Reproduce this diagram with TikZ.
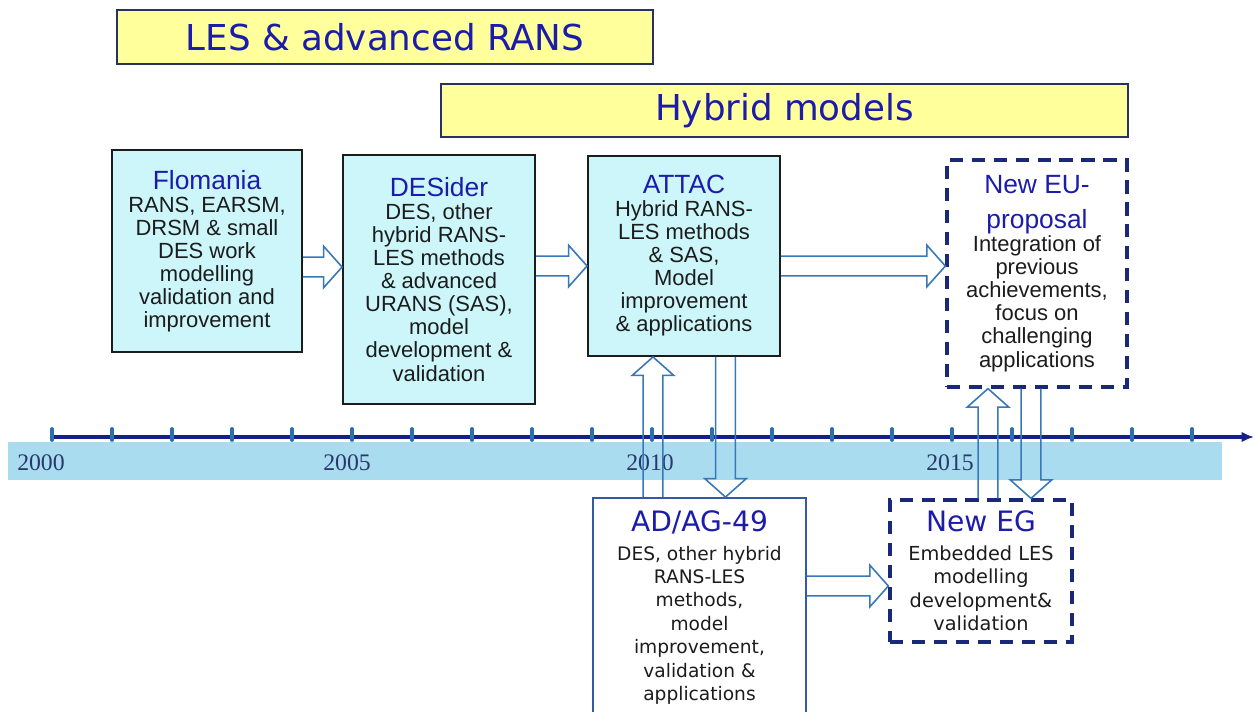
\documentclass[tikz,border=0pt]{standalone}
\usepackage{fontspec}
\setmainfont{Liberation Sans}
\newfontfamily\verdfont{DejaVu Sans}
\newfontfamily\yearfont{Liberation Serif}
\usetikzlibrary{calc,arrows.meta}
\definecolor{boxcyan}{RGB}{204,246,250}
\definecolor{bandblue}{RGB}{168,220,238}
\definecolor{axisblue}{RGB}{22,32,140}
\definecolor{tickblue}{RGB}{45,110,178}
\definecolor{titleblue}{RGB}{28,28,170}
\definecolor{bodygray}{RGB}{28,28,28}
\definecolor{arrowblue}{RGB}{55,120,185}
\definecolor{dashblue}{RGB}{25,40,120}
\definecolor{adagblue}{RGB}{50,90,165}
\definecolor{banneryellow}{RGB}{255,255,155}
\definecolor{bannerline}{RGB}{40,50,95}
\definecolor{yearblue}{RGB}{40,55,110}
\def\pxu{0.569pt}
\newcommand{\ttl}[1]{{\fontsize{15}{13}\selectfont\color{titleblue}#1}}
\newcommand{\ttlb}[1]{{\fontsize{16}{13}\selectfont\color{titleblue}#1}}

\begin{document}
\begin{tikzpicture}[x=0.02cm, y=-0.02cm,
	projbox/.style={draw=bodygray, line width=1.1pt, fill=boxcyan, align=center,
		inner sep=0pt, text=bodygray, font=\fontsize{12.5}{13.1}\selectfont},
	newbox/.style={draw=dashblue, line width=1.9pt, dash pattern=on 7.5pt off 5pt,
		fill=white, align=center, inner sep=0pt, text=bodygray},
	groupbox/.style={draw=adagblue, line width=1.1pt, fill=white, align=center,
		inner sep=0pt, text=bodygray},
	banner/.style={draw=bannerline, line width=1pt, fill=banneryellow, text=titleblue,
		inner sep=0pt, font=\verdfont\fontsize{20.3}{24}\selectfont},
	yearlabel/.style={text=yearblue, font=\yearfont\fontsize{13.5}{16}\selectfont},
	blockarrow/.style={draw=arrowblue, line width=0.9pt, line join=miter,
		to path={let \p1=(\tikztostart), \p2=(\tikztotarget),
			\n1={atan2(\y2-\y1,\x2-\x1)}, \n2={veclen(\x2-\x1,\y2-\y1)} in
			($(\p1)+(\n1+90:\shaftw)$)
			-- ($(\p1)+(\n1:\n2-\headl)+(\n1+90:\shaftw)$)
			-- ($(\p1)+(\n1:\n2-\headl)+(\n1+90:\headw)$)
			-- (\p2)
			-- ($(\p1)+(\n1:\n2-\headl)+(\n1-90:\headw)$)
			-- ($(\p1)+(\n1:\n2-\headl)+(\n1-90:\shaftw)$)
			-- ($(\p1)+(\n1-90:\shaftw)$)}}]
	\def\shaftw{5.6pt}
	\def\headw{11.8pt}
	\def\headl{10.5pt}

	\path[use as bounding box, clip] (0,0) rectangle (1255,711);

	% time line
	\fill[bandblue] (8,442) rectangle (1222,480);
	\draw[axisblue, line width=2pt, -{Latex[length=7pt,width=6pt]}] (52,437) -- (1254,437);
	\foreach \i in {0,...,19}
		\draw[tickblue, line width=2.2pt, line cap=round] (52+60*\i,429) -- (52+60*\i,440);

	\node[yearlabel] (y2000) at (41,463)  {2000};
	\node[yearlabel] (y2005) at (347,463) {2005};
	\node[yearlabel] (y2010) at (650,463) {2010};
	\node[yearlabel] (y2015) at (950,463) {2015};

	% projects
	\node[projbox, minimum width=190*\pxu, minimum height=202*\pxu] (flo) at (207,251)
		{\ttl{Flomania}\\RANS, EARSM,\\DRSM \& small\\DES work\\modelling\\validation and\\improvement};
	\node[projbox, minimum width=192*\pxu, minimum height=249*\pxu] (des) at (439,279.5)
		{\ttl{DESider}\\DES, other\\hybrid RANS-\\LES methods\\\& advanced\\URANS (SAS),\\model\\development \&\\validation};
	\node[projbox, minimum width=192*\pxu, minimum height=200*\pxu] (att) at (684,256)
		{\ttl{ATTAC}\\Hybrid RANS-\\LES methods\\\& SAS,\\Model\\improvement\\\& applications};
	\node[newbox, minimum width=180*\pxu, minimum height=227*\pxu,
		font=\fontsize{12.5}{13.1}\selectfont] (eu) at (1037,273.5)
		{\ttl{New EU-}\\[7pt]\ttl{proposal}\\Integration of\\previous\\achievements,\\focus on\\challenging\\applications};

	% groups
	\node[groupbox, minimum width=213*\pxu, minimum height=219*\pxu,
		font=\verdfont\fontsize{10.6}{13.3}\selectfont] (adag) at (699.5,607.5)
		{\ttlb{AD/AG-49}\\[3pt]DES, other hybrid\\RANS-LES\\methods,\\model\\improvement,\\validation \&\\applications};
	\node[newbox, minimum width=182*\pxu, minimum height=142*\pxu,
		font=\verdfont\fontsize{11}{13.3}\selectfont] (eg) at (981,571)
		{\ttlb{New EG}\\[3pt]Embedded LES\\modelling\\development\&\\validation};

	% links
	\draw[blockarrow] (flo.east |- 0,267) to (des.west |- 0,267);
	\draw[blockarrow] (des.east |- 0,266) to (att.west |- 0,266);
	\draw[blockarrow] (att.east |- 0,266) to (eu.west |- 0,266);
	\draw[blockarrow] (adag.east |- 0,586) to (eg.west |- 0,586);
	\draw[blockarrow] (adag.north -| 653,0) to (att.south -| 653,0);
	\draw[blockarrow] (att.south -| 725.5,0) to (adag.north -| 725.5,0);
	\draw[blockarrow] (eg.north -| 988,0) to (eu.south -| 988,0);
	\draw[blockarrow] (eu.south -| 1031,0) to (eg.north -| 1031,0);

	% periods
	\node[banner, minimum width=536*\pxu, minimum height=54*\pxu] (les) at (385,37) {LES \& advanced RANS};
	\node[banner, minimum width=687*\pxu, minimum height=53*\pxu] (hyb) at (784.5,110.5) {Hybrid models};
\end{tikzpicture}
\end{document}
